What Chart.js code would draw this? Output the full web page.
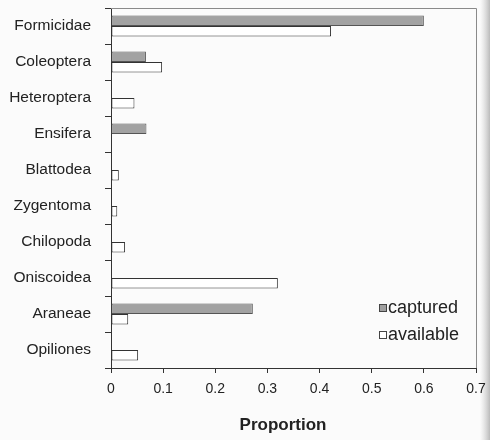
<!DOCTYPE html>
<html>
<head>
<meta charset="utf-8">
<script src="https://cdn.jsdelivr.net/npm/chart.js@4.4.0/dist/chart.umd.min.js"></script>
<style>
  html, body { margin: 0; padding: 0; background: #fbfbfb; }
  #wrap { width: 490px; height: 440px; }
</style>
</head>
<body>
<div id="wrap"><canvas id="grafico" width="490" height="440"></canvas></div>
<script>
const categorias = ['Formicidae', 'Coleoptera', 'Heteroptera', 'Ensifera', 'Blattodea',
    'Zygentoma', 'Chilopoda', 'Oniscoidea', 'Araneae', 'Opiliones'];
const capturados = [0.60, 0.067, 0, 0.068, 0, 0, 0, 0, 0.272, 0];
const disponiveis = [0.422, 0.098, 0.045, 0, 0.015, 0.012, 0.027, 0.32, 0.033, 0.052];
const ticksX = [0, 0.1, 0.2, 0.3, 0.4, 0.5, 0.6, 0.7];
const fonte = '"Liberation Sans", Arial, sans-serif';

// fundo, moldura do grafico, marcas do eixo y, legenda e titulo do eixo
const extras = {
    id: 'extras',
    beforeDraw(chart) {
        const c = chart.ctx;
        c.save();
        c.fillStyle = '#fbfbfb';
        c.fillRect(0, 0, chart.width, chart.height);
        const g = c.createLinearGradient(480, 0, 490, 0);
        g.addColorStop(0, 'rgba(200,200,200,0)');
        g.addColorStop(1, 'rgba(170,170,170,0.8)');
        c.fillStyle = g;
        c.fillRect(480, 0, 10, chart.height);
        c.restore();
    },
    afterDraw(chart) {
        const c = chart.ctx;
        const a = chart.chartArea;
        const ys = chart.scales.y;
        c.save();
        c.strokeStyle = '#8a8a8a';
        c.lineWidth = 1;
        c.beginPath();
        c.moveTo(a.left, a.top + 0.5);
        c.lineTo(a.right + 0.5, a.top + 0.5);
        c.lineTo(a.right + 0.5, a.bottom);
        c.stroke();

        // marcas entre as categorias
        const passo = ys.getPixelForValue(1) - ys.getPixelForValue(0);
        c.strokeStyle = '#333';
        c.beginPath();
        for (let i = 0; i <= categorias.length; i++) {
            const y = Math.round(ys.getPixelForValue(i) - passo / 2) + 0.5;
            c.moveTo(a.left - 6, y);
            c.lineTo(a.left, y);
        }
        c.stroke();

        // legenda
        c.font = '18px ' + fonte;
        c.textBaseline = 'middle';
        c.textAlign = 'left';
        c.fillStyle = '#a0a0a0';
        c.fillRect(379, 304, 8, 8);
        c.strokeStyle = '#444';
        c.strokeRect(379.5, 304.5, 7, 7);
        c.fillStyle = '#ffffff';
        c.fillRect(379, 331, 8, 8);
        c.strokeRect(379.5, 331.5, 7, 7);
        c.fillStyle = '#222';
        c.fillText('captured', 388, 308);
        c.fillText('available', 388, 335);

        // titulo do eixo
        c.font = 'bold 17px ' + fonte;
        c.textAlign = 'center';
        c.fillText('Proportion', 283, 425);
        c.restore();
    }
};

new Chart(document.getElementById('grafico'), {
    type: 'bar',
    data: {
        labels: categorias,
        datasets: [
            {
                label: 'captured',
                data: capturados,
                backgroundColor: '#a2a2a2',
                borderColor: '#555',
                borderWidth: ctx => ctx.raw ? 1 : 0,
                borderSkipped: false,
                categoryPercentage: 0.58,
                barPercentage: 1
            },
            {
                label: 'available',
                data: disponiveis,
                backgroundColor: '#ffffff',
                borderColor: '#333',
                borderWidth: ctx => ctx.raw ? 1 : 0,
                borderSkipped: false,
                categoryPercentage: 0.58,
                barPercentage: 1
            }
        ]
    },
    options: {
        indexAxis: 'y',
        responsive: false,
        animation: false,
        layout: { padding: { top: 8, right: 14, left: 0, bottom: 0 } },
        plugins: {
            legend: { display: false },
            tooltip: { enabled: false }
        },
        scales: {
            x: {
                min: 0,
                max: 0.7,
                afterBuildTicks: scale => {
                    scale.ticks = ticksX.map(v => ({ value: v }));
                },
                afterFit: scale => {
                    scale.height = 72;
                    scale.paddingLeft = 0;
                    scale.paddingRight = 0;
                },
                border: { color: '#333', width: 1 },
                grid: { drawOnChartArea: false, tickLength: 5, color: '#333' },
                ticks: {
                    padding: 8,
                    color: '#222',
                    font: { family: fonte, size: 14 },
                    callback: v => String(v)
                }
            },
            y: {
                afterFit: scale => {
                    scale.width = 111;
                    scale.paddingTop = 0;
                    scale.paddingBottom = 0;
                },
                border: { color: '#333', width: 1 },
                grid: { drawOnChartArea: false, drawTicks: false, tickLength: 6, color: '#333' },
                ticks: {
                    padding: 20,
                    color: '#222',
                    font: { family: fonte, size: 15.5 }
                }
            }
        }
    },
    plugins: [extras]
});
</script>
</body>
</html>
